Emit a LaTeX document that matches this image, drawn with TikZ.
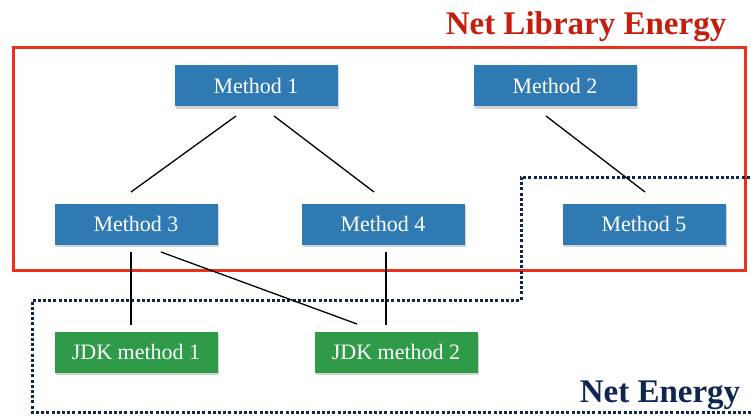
\documentclass[tikz,border=0pt]{standalone}
\usepackage{fontspec}
\setmainfont{Liberation Serif}
\usetikzlibrary{shadows}
\definecolor{boxblue}{HTML}{2F7AB2}
\definecolor{boxgreen}{HTML}{2F9A47}
\definecolor{libred}{HTML}{E8321C}
\definecolor{titlered}{HTML}{C61E0E}
\definecolor{navy}{HTML}{0F2750}
\tikzset{
  method/.style={fill=boxblue, text=white, minimum width=163pt, minimum height=41pt,
    inner sep=0pt, font=\fontsize{22}{24}\selectfont,
    drop shadow={shadow xshift=1pt, shadow yshift=-2pt, opacity=0.35, fill=gray}},
  jdk/.style={method, fill=boxgreen},
  link/.style={draw=black, line width=1.3pt},
  title/.style={font=\fontsize{33}{36}\selectfont\bfseries, inner sep=0pt}
}
\begin{document}
\begin{tikzpicture}[x=1pt,y=-1pt]
\useasboundingbox (0,0) rectangle (751,417);
% boundaries
\draw[libred, line width=3pt] (13,48) rectangle (745,270);
\draw[navy, line width=3pt, dash pattern=on 3pt off 2.2pt]
  (755,177) -- (521,177) -- (521,300) -- (32,300) -- (32,412) -- (755,412);
% titles
\node[title, text=titlered] (tlib) at (586,27) {Net Library Energy};
\node[title, text=navy] (tnet) at (660,395) {Net Energy};
% nodes
\node[method] (m1) at (256,86) {Method 1};
\node[method] (m2) at (555,86) {Method 2};
\node[method] (m3) at (136,224) {Method 3};
\node[method] (m4) at (383,224) {Method 4};
\node[method] (m5) at (644,224) {Method 5};
\node[jdk] (j1) at (136,352) {JDK method 1};
\node[jdk] (j2) at (396,352) {JDK method 2};
% anchor points for connectors
\coordinate (m1a) at (236,116);
\coordinate (m1b) at (274,116);
\coordinate (m3t) at (131,192);
\coordinate (m4t) at (374,192);
\coordinate (m2a) at (546,116);
\coordinate (m5t) at (645,192);
\coordinate (m3a) at (131,252);
\coordinate (m3b) at (161,252);
\coordinate (j1t) at (131,325);
\coordinate (j2t) at (357,324);
\coordinate (m4a) at (386,252);
\coordinate (j2b) at (386,325);
\draw[link] (m1a) -- (m3t);
\draw[link] (m1b) -- (m4t);
\draw[link] (m2a) -- (m5t);
\draw[link] (m3a) -- (j1t);
\draw[link] (m3b) -- (j2t);
\draw[link] (m4a) -- (j2b);
\end{tikzpicture}
\end{document}
